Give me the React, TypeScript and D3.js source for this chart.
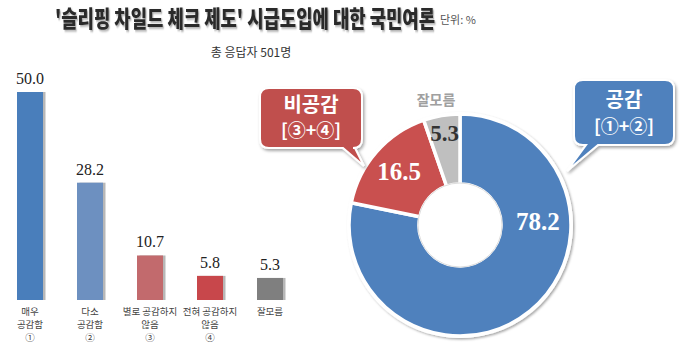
import React from "react";
import * as d3 from "d3";

const barCategories = ["매우\n공감함\n①", "다소\n공감함\n②", "별로 공감하지\n않음\n③", "전혀 공감하지\n않음\n④", "잘모름"];
const barValues = [50.0, 28.2, 10.7, 5.8, 5.3];
const barColors = ["#4a7ebb", "#6d90c0", "#c26b6d", "#c8474b", "#7f7f7f"];

const donutLabels = ["공감", "비공감", "잘모름"];
const donutValues = [78.2, 16.5, 5.3];
const donutColors = ["#4f81bd", "#c9504f", "#bfbfbf"];

const title = "'슬리핑 차일드 체크 제도' 시급도입에 대한 국민여론";
const unitLabel = "단위: %";
const subtitle = "총 응답자 501명";

const W = 700;
const H = 357;
const KR = "'Noto Sans CJK KR', 'Noto Sans', sans-serif";
const SERIF = "'Liberation Serif', 'DejaVu Serif', serif";

function callout(x: number, y: number, w: number, h: number, r: number, t1: number, t2: number, tx: number, ty: number) {
  return [
    `M${x + r},${y}`,
    `H${x + w - r}`,
    `Q${x + w},${y} ${x + w},${y + r}`,
    `V${y + h - r}`,
    `Q${x + w},${y + h} ${x + w - r},${y + h}`,
    `H${Math.max(t1, t2)}`,
    `L${tx},${ty}`,
    `L${Math.min(t1, t2)},${y + h}`,
    `H${x + r}`,
    `Q${x},${y + h} ${x},${y + h - r}`,
    `V${y + r}`,
    `Q${x},${y} ${x + r},${y}`,
    "Z",
  ].join(" ");
}

export default function App() {
  const x = d3.scalePoint<string>().domain(barCategories).range([30, 270]);
  const y = d3.scaleLinear().domain([0, 50]).range([300, 92]);
  const bw = 26;

  const cx = 460;
  const cy = 225;
  const rOuter = 111;
  const rInner = 41;
  const pie = d3.pie<number>().sort(null).value((d) => d);
  const arcs = pie(donutValues);
  const arc = d3.arc<d3.PieArcDatum<number>>().innerRadius(rInner).outerRadius(rOuter);

  const labelRadius = [78, 81, 93];
  const labelAngleOverride: (number | null)[] = [(87 * Math.PI) / 180, null, null];
  const labelColors = ["#ffffff", "#ffffff", "#333333"];
  const labelSizes = [25, 25, 23];

  return (
    <svg width={W} height={H} style={{ display: "block", position: "absolute", left: 0, top: 0 }}>
      <defs>
        <filter id="tshadow" x="-5%" y="-30%" width="110%" height="170%">
          <feDropShadow dx="1.2" dy="1.2" stdDeviation="0.7" floodColor="#000" floodOpacity="0.35" />
        </filter>
        <filter id="bshadow" x="-20%" y="-5%" width="160%" height="110%">
          <feDropShadow dx="2.5" dy="0" stdDeviation="0.6" floodColor="#999" floodOpacity="0.7" />
        </filter>
        <filter id="dshadow" x="-10%" y="-10%" width="125%" height="125%">
          <feDropShadow dx="1.5" dy="1.5" stdDeviation="1.2" floodColor="#000" floodOpacity="0.35" />
        </filter>
        <filter id="cshadow" x="-10%" y="-10%" width="125%" height="130%">
          <feDropShadow dx="1.5" dy="2" stdDeviation="1.5" floodColor="#000" floodOpacity="0.35" />
        </filter>
      </defs>
      <rect width={W} height={H} fill="#fff" />

      {/* Title */}
      <g transform="translate(55,27) scale(1,1.35)">
        <text x={0} y={0} fontFamily={KR} fontWeight={900} fontSize={17} fill="#2b2b2b" textLength={380} lengthAdjust="spacingAndGlyphs" filter="url(#tshadow)">
          {title}
        </text>
      </g>
      <text x={440} y={24} fontFamily={KR} fontSize={11} fill="#555">{unitLabel}</text>
      <text x={251} y={57} fontFamily={KR} fontSize={12} fill="#333" textAnchor="middle">{subtitle}</text>

      {/* Bars */}
      {barValues.map((v, i) => {
        const c = barCategories[i];
        const xc = x(c)!;
        return (
          <g key={c}>
            <rect x={xc - bw / 2} y={y(v)} width={bw} height={y(0) - y(v)} fill={barColors[i]} filter="url(#bshadow)" />
            <text x={xc} y={y(v) - 8} textAnchor="middle" fontFamily={SERIF} fontSize={16} fill="#222">
              {v.toFixed(1)}
            </text>
            {c.split("\n").map((line, j) => (
              <text key={j} x={xc} y={315 + j * 13} textAnchor="middle" fontFamily={KR} fontSize={9.5} fill="#444">
                {line}
              </text>
            ))}
          </g>
        );
      })}

      {/* Donut */}
      <g transform={`translate(${cx},${cy})`}>
        <circle r={rOuter + 2} fill="#fff" filter="url(#dshadow)" />
        {arcs.map((a, i) => (
          <path key={i} d={arc(a)!} fill={donutColors[i]} stroke="#fff" strokeWidth={3.5} strokeLinejoin="round" />
        ))}
        <circle r={rInner + 1} fill="#fff" stroke="#ddd" strokeWidth={1} />
        {arcs.map((a, i) => {
          const ang = labelAngleOverride[i] ?? (a.startAngle + a.endAngle) / 2;
          const lx = Math.sin(ang) * labelRadius[i];
          const ly = -Math.cos(ang) * labelRadius[i];
          return (
            <text key={i} x={lx} y={ly} dy="0.35em" textAnchor="middle" fontFamily={SERIF} fontWeight={700} fontSize={labelSizes[i]} fill={labelColors[i]}>
              {donutValues[i].toFixed(1)}
            </text>
          );
        })}
        <text x={-24} y={-120} textAnchor="middle" fontFamily={KR} fontWeight={700} fontSize={14} fill="#a0a0a0">
          {donutLabels[2]}
        </text>
      </g>

      {/* Callouts */}
      <g filter="url(#cshadow)">
        <path d={callout(260, 88, 102, 60, 9, 343, 355, 364, 166)} fill="#c0504d" stroke="#fff" strokeWidth={2} />
        <path d={callout(574, 80, 100, 65, 9, 586, 598, 567, 171)} fill="#4f81bd" stroke="#fff" strokeWidth={2} />
      </g>
      <text x={311} y={112} textAnchor="middle" fontFamily={KR} fontWeight={700} fontSize={20} fill="#fff">{donutLabels[1]}</text>
      <text x={311} y={137} textAnchor="middle" fontFamily={KR} fontWeight={700} fontSize={18} fill="#fff">[③+④]</text>
      <text x={624} y={107} textAnchor="middle" fontFamily={KR} fontWeight={700} fontSize={20} fill="#fff">{donutLabels[0]}</text>
      <text x={624} y={133} textAnchor="middle" fontFamily={KR} fontWeight={700} fontSize={18} fill="#fff">[①+②]</text>
    </svg>
  );
}
